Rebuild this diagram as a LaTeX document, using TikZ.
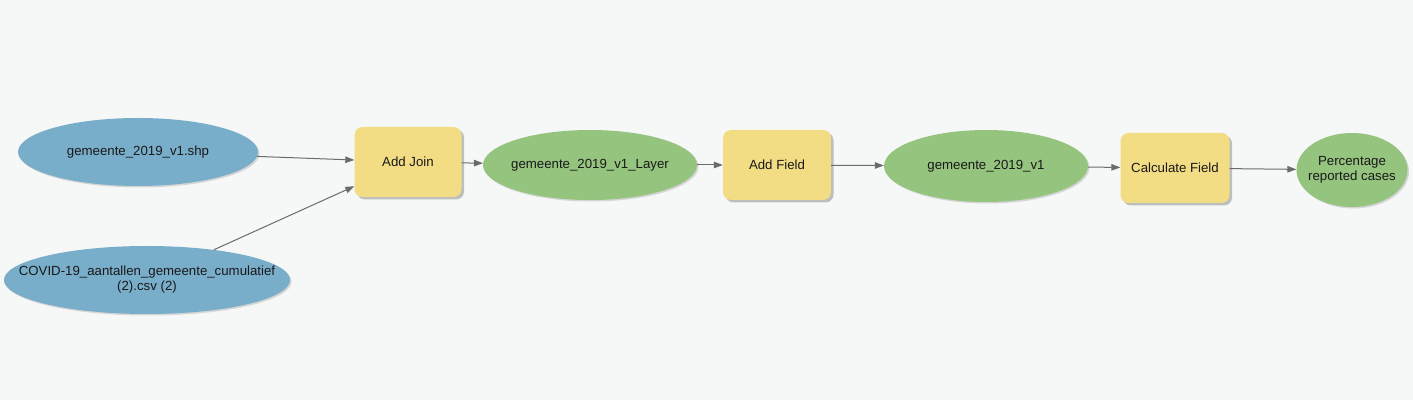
\documentclass[tikz,border=0pt]{standalone}
\usepackage{fontspec}
\setmainfont{Liberation Sans}
\usetikzlibrary{shapes.geometric,shadows,arrows.meta}
\definecolor{bgcol}{HTML}{F6F8F8}
\definecolor{datablue}{HTML}{79AECB}
\definecolor{datagreen}{HTML}{95C47E}
\definecolor{toolyellow}{HTML}{F2DC84}
\definecolor{linkgray}{HTML}{6B6B6B}

\begin{document}
\begin{tikzpicture}[font=\fontsize{13.3}{15}\selectfont,
						every node/.style={text=black!90,align=center,inner sep=0pt},
						inputdata/.style={ellipse,fill=datablue,inner xsep=-4bp,
						drop shadow={shadow xshift=1.5bp,shadow yshift=-1.5bp,fill=black!25,opacity=0.6}},
						derived/.style={ellipse,fill=datagreen,inner xsep=-4bp,
						drop shadow={shadow xshift=1.5bp,shadow yshift=-1.5bp,fill=black!25,opacity=0.6}},
						tool/.style={rounded corners=8bp,fill=toolyellow,
						drop shadow={shadow xshift=2.5bp,shadow yshift=-2.5bp,fill=black!35,opacity=0.7}},
						link/.style={draw=linkgray,line width=1bp,
						-{Triangle[length=9bp,width=6.5bp]}}]

		\fill[bgcol] (0bp,0bp) rectangle (1413bp,400bp);
		\useasboundingbox (0bp,0bp) rectangle (1413bp,400bp);

		\node[inputdata,minimum width=240bp,minimum height=68bp] (shp) at (138bp,248bp) {gemeente\_2019\_v1.shp};
		\node[inputdata,inner xsep=-27bp,minimum width=285bp,minimum height=68bp] (csv) at (147bp,120bp) {COVID-19\_aantallen\_gemeente\_cumulatief\\(2).csv (2)};
		\node[tool,minimum width=107bp,minimum height=70bp] (addjoin) at (408bp,238bp) {Add Join};
		\node[derived,minimum width=214bp,minimum height=70bp] (layer) at (590bp,235bp) {gemeente\_2019\_v1\_Layer};
		\node[tool,minimum width=108bp,minimum height=70bp] (addfield) at (777bp,235bp) {Add Field};
		\node[derived,minimum width=204bp,minimum height=72bp] (gem) at (986bp,234bp) {gemeente\_2019\_v1};
		\node[tool,minimum width=109bp,minimum height=70bp] (calcfield) at (1175bp,232bp) {Calculate Field};
		\node[derived,inner xsep=-6bp,minimum width=111bp,minimum height=74bp] (pct) at (1352bp,230bp) {Percentage\\reported cases};

		\draw[link] (shp) -- (addjoin);
		\draw[link] (csv) -- (addjoin);
		\draw[link] (addjoin) -- (layer);
		\draw[link] (layer) -- (addfield);
		\draw[link] (addfield) -- (gem);
		\draw[link] (gem) -- (calcfield);
		\draw[link] (calcfield) -- (pct);

	\end{tikzpicture}
\end{document}
